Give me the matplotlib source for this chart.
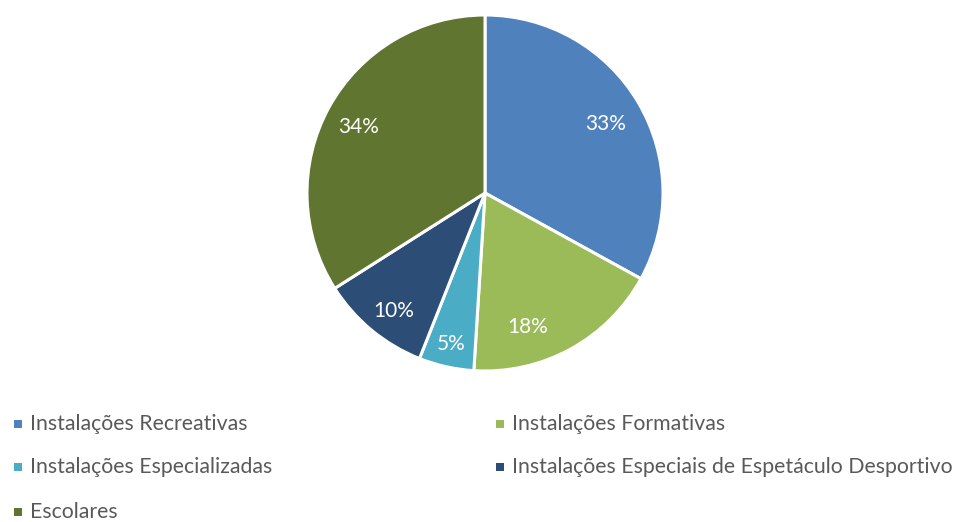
import matplotlib
matplotlib.use("Agg")
import matplotlib.pyplot as plt
from matplotlib.patches import Rectangle
import numpy as np

categories = ["Instalações Recreativas", "Instalações Formativas", "Instalações Especializadas",
              "Instalações Especiais de Espetáculo Desportivo", "Escolares"]
values = [33, 18, 5, 10, 34]
colors = ["#4F81BD", "#9BBB59", "#4BACC6", "#2C4D75", "#5F7530"]

# label placement (layout only): radial factor and angular shift in degrees
label_radius = [0.78, 0.79, 0.87, 0.84, 0.80]
label_shift = [-1, -11, 0, 2, 1]

W, H = 969, 522
fig = plt.figure(figsize=(W / 100, H / 100), dpi=100)
fig.patch.set_facecolor("white")

cx, cy, r = 485, 193, 178
ax = fig.add_axes([(cx - r) / W, 1 - (cy + r) / H, 2 * r / W, 2 * r / H])
wedges, texts, autotexts = ax.pie(
    values, colors=colors, startangle=90, counterclock=False,
    autopct=lambda p: f"{p:.0f}%", pctdistance=0.8, radius=1,
    wedgeprops=dict(edgecolor="white", linewidth=2.2),
    textprops=dict(color="white", fontsize=15, family=["Lato", "DejaVu Sans"]))
for w, t, rf, sh in zip(wedges, autotexts, label_radius, label_shift):
    th = np.deg2rad((w.theta1 + w.theta2) / 2 + sh)
    t.set_position((rf * np.cos(th), rf * np.sin(th)))
ax.set_xlim(-1, 1)
ax.set_ylim(-1, 1)
ax.set_aspect("equal")
ax.axis("off")

# Legend (two columns)
col_x = [14, 496]
row_y = [424, 467, 512]
for i, (lab, c) in enumerate(zip(categories, colors)):
    x = col_x[i % 2]
    y = row_y[i // 2]
    fig.patches.append(Rectangle((x / W, 1 - (y + 4) / H), 8 / W, 8 / H,
                                 transform=fig.transFigure, facecolor=c, edgecolor="none"))
    fig.text((x + 16) / W, 1 - y / H, lab, ha="left", va="center", fontsize=15.3,
             color="#595959", family=["Lato", "DejaVu Sans"])

fig.savefig("out.png", dpi=100, facecolor="white")
